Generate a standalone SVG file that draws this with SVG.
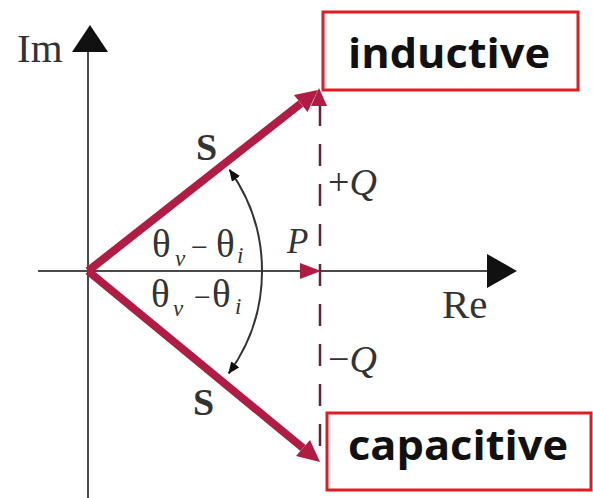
<svg xmlns="http://www.w3.org/2000/svg" width="593" height="498" viewBox="0 0 593 498">
<defs>
<style>
.axis{stroke:#4a4a4a;stroke-width:2;fill:none}
.ahead{fill:#111}
.vec{stroke:#b01c44;stroke-width:8;fill:none;stroke-linecap:butt}
.vhead{fill:#b01c44}
.dash{stroke:#5e2633;stroke-width:2.5;stroke-dasharray:22 18;fill:none}
.arc{stroke:#333;stroke-width:2;fill:none}
.box{fill:#fff;stroke:#e01b24;stroke-width:3}
.lbl{font-family:"Open Sans","DejaVu Sans",sans-serif;font-weight:bold;font-size:42px;fill:#111}
.ser{font-family:"Liberation Serif","Times New Roman",serif;fill:#333}
.it{font-style:italic}
</style>
<marker id="arcHead" viewBox="0 0 12 10" refX="11" refY="5" markerWidth="12" markerHeight="10" markerUnits="userSpaceOnUse" orient="auto-start-reverse">
<path d="M0,0 L12,5 L0,10 z" fill="#111"/>
</marker>
</defs>
<rect width="593" height="498" fill="#fff"/>
<g id="axes">
<line class="axis" x1="88" y1="50" x2="88" y2="498"/>
<polygon class="ahead" points="90,25 72,52 108,52"/>
<line class="axis" x1="38" y1="271" x2="490" y2="271"/>
<polygon class="ahead" points="487,254 517,271 487,288"/>
<text class="ser" x="17" y="62" font-size="41">Im</text>
<text class="ser" x="442" y="318" font-size="41">Re</text>
</g>
<g id="connectors">
<line class="vec" x1="88" y1="271" x2="300.7" y2="103.6"/>
<polygon class="vhead" points="318,90 307.5,112 294,95"/>
<line class="vec" x1="88" y1="271" x2="303" y2="448"/>
<polygon class="vhead" points="320,462 296,456 310,440"/>
<line class="dash" x1="320" y1="104" x2="320" y2="462"/>
<polygon class="vhead" points="319,88 311,106 327,106"/>
<polygon class="vhead" points="300,263 321,271 300,279"/>
<path class="arc" d="M229.6,169.9 A174 174 0 0 1 228.8,373.3" marker-start="url(#arcHead)" marker-end="url(#arcHead)"/>
</g>
<g id="labels">
<text class="ser" x="196" y="160" font-size="38" font-weight="bold" fill="#222">S</text>
<text class="ser" x="193" y="415" font-size="38" font-weight="bold" fill="#222">S</text>
<text class="ser" font-size="39"><tspan x="152" y="257">θ</tspan><tspan x="175" y="266" font-size="23" class="it">v</tspan><tspan x="191" y="257" font-size="30">−</tspan><tspan x="216" y="257">θ</tspan><tspan x="237" y="263" font-size="23" class="it">i</tspan></text>
<text class="ser" font-size="39"><tspan x="151" y="307">θ</tspan><tspan x="173" y="316" font-size="23" class="it">v</tspan><tspan x="194" y="307" font-size="30">−</tspan><tspan x="212" y="307">θ</tspan><tspan x="235" y="314" font-size="23" class="it">i</tspan></text>
<text class="ser it" x="287" y="253" font-size="35">P</text>
<text class="ser" x="328" y="195" font-size="38">+<tspan class="it">Q</tspan></text>
<text class="ser" x="328" y="372" font-size="38">−<tspan class="it">Q</tspan></text>
</g>
<g id="inductive">
<rect class="box" x="323" y="12" width="255" height="78"/>
<text class="lbl" x="348" y="68" textLength="202" lengthAdjust="spacingAndGlyphs">inductive</text>
</g>
<g id="capacitive">
<rect class="box" x="327" y="413" width="264" height="77"/>
<text class="lbl" x="348" y="460" textLength="220" lengthAdjust="spacingAndGlyphs">capacitive</text>
</g>
</svg>
